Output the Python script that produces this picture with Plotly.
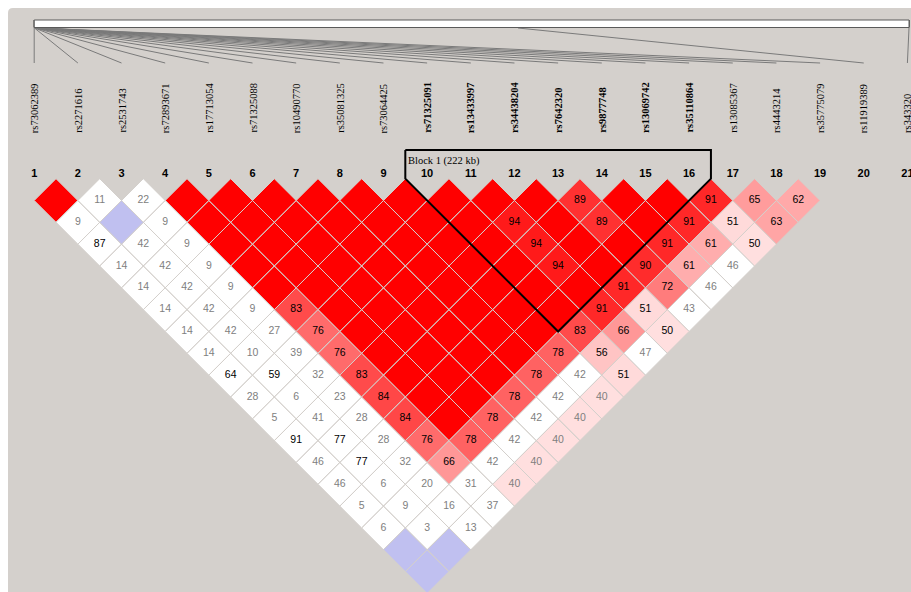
import plotly.graph_objects as go

# ---------------- data ----------------
snp_names = ["rs73062389", "rs2271616", "rs2531743", "rs72893671", "rs17713054",
             "rs71325088", "rs10490770", "rs35081325", "rs73064425", "rs71325091",
             "rs13433997", "rs34438204", "rs7642320", "rs9877748", "rs13069742",
             "rs35110864", "rs13085367", "rs4443214", "rs35775079", "rs11919389",
             "rs343320"]
# physical positions (kb, relative to first SNP)
snp_pos_kb = [0, 40, 75, 110, 150, 180, 210, 250, 290, 320, 360, 395, 430, 470,
              510, 542, 580, 610, 650, 70160, 126850]
n_ld = 19                      # SNPs shown in the LD triangle
block_start, block_end = 10, 16
block_label = "Block 1 (222 kb)"

# D' x 100 for pair (i, j), row i lists j = i+1 .. 19 ; 100 = D' of 1 (no number drawn)
dprime = [
    [100, 9, 87, 14, 14, 14, 14, 14, 64, 28, 5, 91, 46, 46, 5, 6, 100, 100],
    [11, 100, 42, 42, 42, 42, 42, 10, 59, 6, 41, 77, 77, 6, 9, 3, 100],
    [22, 9, 9, 9, 9, 9, 27, 39, 32, 23, 28, 28, 32, 20, 16, 13],
    [100, 100, 100, 100, 100, 83, 76, 76, 83, 84, 84, 76, 66, 31, 37],
    [100, 100, 100, 100, 100, 100, 100, 100, 100, 100, 100, 78, 42, 40],
    [100, 100, 100, 100, 100, 100, 100, 100, 100, 100, 78, 42, 40],
    [100, 100, 100, 100, 100, 100, 100, 100, 100, 78, 42, 40],
    [100, 100, 100, 100, 100, 100, 100, 100, 78, 42, 40],
    [100, 100, 100, 100, 100, 100, 100, 78, 42, 40],
    [100, 100, 100, 100, 100, 100, 83, 56, 51],
    [100, 94, 94, 94, 100, 91, 66, 47],
    [100, 100, 100, 100, 91, 51, 50],
    [89, 89, 100, 90, 72, 43],
    [100, 100, 91, 61, 46],
    [100, 91, 61, 46],
    [91, 51, 50],
    [65, 63],
    [62],
]
# 1 = LOD >= 2, 0 = LOD < 2
lod_high = [
    [1, 0, 0, 0, 0, 0, 0, 0, 0, 0, 0, 0, 0, 0, 0, 0, 0, 0],
    [0, 0, 0, 0, 0, 0, 0, 0, 0, 0, 0, 0, 0, 0, 0, 0, 0],
    [0, 0, 0, 0, 0, 0, 0, 0, 0, 0, 0, 0, 0, 0, 0, 0],
    [1, 1, 1, 1, 1, 1, 1, 1, 1, 1, 1, 1, 1, 0, 0],
    [1, 1, 1, 1, 1, 1, 1, 1, 1, 1, 1, 1, 0, 1],
    [1, 1, 1, 1, 1, 1, 1, 1, 1, 1, 1, 0, 1],
    [1, 1, 1, 1, 1, 1, 1, 1, 1, 1, 0, 1],
    [1, 1, 1, 1, 1, 1, 1, 1, 1, 0, 1],
    [1, 1, 1, 1, 1, 1, 1, 1, 0, 1],
    [1, 1, 1, 1, 1, 1, 1, 1, 1],
    [1, 1, 1, 1, 1, 1, 1, 0],
    [1, 1, 1, 1, 1, 1, 1],
    [1, 1, 1, 1, 1, 0],
    [1, 1, 1, 1, 0],
    [1, 1, 1, 0],
    [1, 1, 1],
    [1, 1],
    [1],
]

# ---------------- geometry / style ----------------
W, H = 911, 592
X1_PX = 34.2          # pixel x of SNP 1 column
STEP = 43.66          # pixel spacing between SNP columns
HALF = STEP / 2
ROW1_Y = 200.5        # centre of first diamond row
BG = "#d4d0cc"

x_range = [1 - X1_PX / STEP, 1 + (W - X1_PX) / STEP]
bar_end_idx = 1 + (909 - X1_PX) / STEP


def pos_to_idx(p):
    return 1 + p / snp_pos_kb[-1] * (bar_end_idx - 1)


def cell_color(d, strong):
    if strong:
        if d >= 100:
            return "#ff0000"
        g = int(min(223, 2 * 223 * (1 - d / 100.0)))
        return "rgb(255,%d,%d)" % (g, g)
    return "#c0c0f0" if d >= 100 else "#ffffff"


fig = go.Figure()

# diamonds grouped by colour
groups = {}
tx, ty, tt, tc = [], [], [], []
for r, row in enumerate(dprime):
    i = r + 1
    for k, d in enumerate(row):
        j = i + 1 + k
        cx = (i + j) / 2.0
        cy = ROW1_Y + (j - i - 1) * HALF
        col = cell_color(d, lod_high[r][k])
        xs, ys = groups.setdefault(col, ([], []))
        xs += [cx - 0.5, cx, cx + 0.5, cx, cx - 0.5, None]
        ys += [cy, cy - HALF, cy, cy + HALF, cy, None]
        if d < 100:
            tx.append(cx)
            ty.append(cy)
            tt.append(str(d))
            tc.append("#000000" if d >= 50 else "#808080")

for col, (xs, ys) in groups.items():
    fig.add_trace(go.Scatter(x=xs, y=ys, mode="lines", fill="toself", fillcolor=col,
                             line=dict(color=BG, width=1), hoverinfo="skip",
                             showlegend=False))

fig.add_trace(go.Scatter(x=tx, y=ty, mode="text", text=tt,
                         textfont=dict(family="Liberation Sans, Arial", size=10.5, color=tc),
                         hoverinfo="skip", showlegend=False))

# SNP numbers
nums = list(range(1, len(snp_names) + 1))
fig.add_trace(go.Scatter(x=nums, y=[174] * len(nums), mode="text",
                         text=["<b>%d</b>" % n for n in nums],
                         textfont=dict(family="Liberation Sans, Arial", size=11, color="#000"),
                         hoverinfo="skip", showlegend=False))

# fan lines from the chromosome bar to the SNP columns
lx, ly = [], []
for n, p in zip(nums, snp_pos_kb):
    lx += [pos_to_idx(p), n, None]
    ly += [28, 63, None]
fig.add_trace(go.Scatter(x=lx, y=ly, mode="lines", line=dict(color="#7a7a7a", width=1),
                         hoverinfo="skip", showlegend=False))

shapes = []
# grey panel with white border (top/left), rounded top-left corner
x0p, ytp, rx, ry = 8 / W, 1 - 8 / H, 5 / W, 5 / H
panel_path = "M %f 0 L 1 0 L 1 %f L %f %f Q %f %f %f %f Z" % (
    x0p, ytp, x0p + rx, ytp, x0p, ytp, x0p, ytp - ry)
shapes.append(dict(type="path", xref="paper", yref="paper", layer="below",
                   path=panel_path, fillcolor=BG, line=dict(width=0)))
# chromosome bar
shapes.append(dict(type="rect", xref="x", yref="y", x0=1, x1=bar_end_idx, y0=20, y1=27.5,
                   fillcolor="#ffffff", line=dict(color="#5a5a5a", width=1)))
tkx, tky = [], []
for p in snp_pos_kb:
    tkx += [pos_to_idx(p), pos_to_idx(p), None]
    tky += [20, 27.5, None]
fig.add_trace(go.Scatter(x=tkx, y=tky, mode="lines", line=dict(color="#000000", width=1),
                         hoverinfo="skip", showlegend=False))

# haplotype block outline
bs, be = block_start, block_end
top_y = ROW1_Y - HALF
bot_x = (bs + be) / 2.0
bot_y = ROW1_Y + (be - bs - 1) * HALF + HALF
fig.add_trace(go.Scatter(
    x=[bs - 0.5, bs - 0.5, bot_x, be + 0.5, be + 0.5, bs - 0.5],
    y=[150, top_y, bot_y, top_y, 150, 150],
    mode="lines", line=dict(color="#000000", width=2), hoverinfo="skip", showlegend=False))

annotations = []
annotations.append(dict(x=bs - 0.5, y=161, xref="x", yref="y", text=block_label,
                        showarrow=False, xanchor="left", yanchor="middle", xshift=1,
                        font=dict(family="Liberation Serif, Times New Roman", size=10.5,
                                  color="#000")))
for n, name in zip(nums, snp_names):
    txt = "<b>%s</b>" % name if bs <= n <= be else name
    annotations.append(dict(x=n, y=135, xref="x", yref="y", text=txt, textangle=-90,
                            showarrow=False, xanchor="center", yanchor="bottom",
                            font=dict(family="Liberation Serif, Times New Roman", size=10.5,
                                      color="#000")))

fig.update_layout(
    width=W, height=H, margin=dict(l=0, r=0, t=0, b=0),
    paper_bgcolor="#ffffff", plot_bgcolor="rgba(0,0,0,0)",
    xaxis=dict(range=x_range, visible=False, fixedrange=True),
    yaxis=dict(range=[H, 0], visible=False, fixedrange=True),
    shapes=shapes, annotations=annotations, showlegend=False,
)

fig.write_html("out.html")
